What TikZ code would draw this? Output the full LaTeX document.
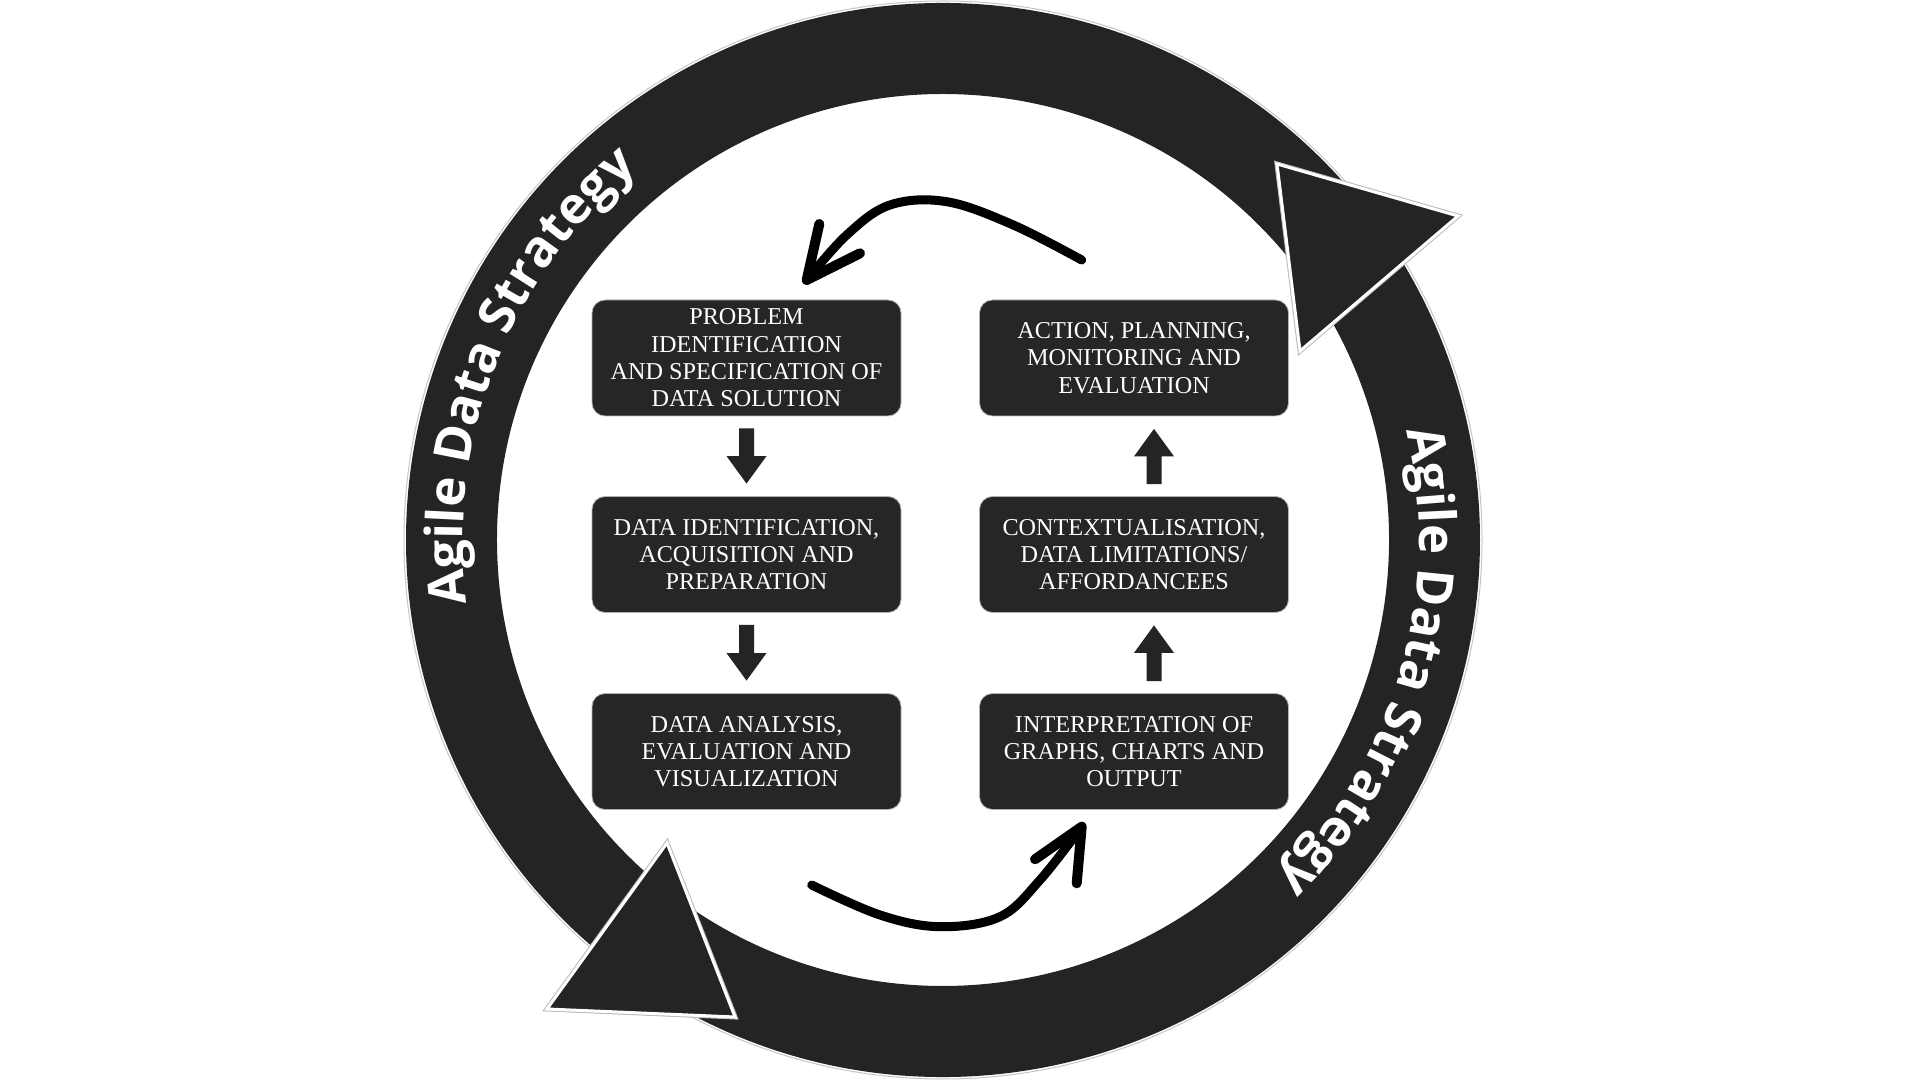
\documentclass[tikz,border=0pt]{standalone}
\usepackage{fontspec}
\setmainfont{Liberation Serif}
\newfontfamily\ringfont{Open Sans}
\usetikzlibrary{calc,decorations.text}
\definecolor{ink}{HTML}{242424}
\definecolor{boxgray}{HTML}{262626}

% filled block arrow from #1 to #2 (tip at #2)
\newcommand\stepflow[2]{%
  \coordinate (sf-s) at (#1);
  \coordinate (sf-t) at (#2);
  \coordinate (sf-h) at ($(sf-t)!27.5pt!(sf-s)$);
  \fill[ink] ($(sf-s)!7.5pt!90:(sf-t)$) -- ($(sf-h)!7.5pt!90:(sf-t)$)
    -- ($(sf-h)!20pt!90:(sf-t)$) -- (sf-t) -- ($(sf-h)!20pt!-90:(sf-t)$)
    -- ($(sf-h)!7.5pt!-90:(sf-t)$) -- ($(sf-s)!7.5pt!-90:(sf-t)$) -- cycle;}

\begin{document}
\begin{tikzpicture}[x=1pt,y=1pt,
  stepbox/.style={fill=boxgray, draw=gray!60, line width=0.8pt, rounded corners=13pt,
    minimum width=309pt, minimum height=116pt, text=white, align=center,
    font=\fontsize{24.2}{27.3}\selectfont, inner sep=0pt},
  ringband/.style={fill=ink},
  ringedge/.style={draw=gray!45, line width=1pt},
  headhalo/.style={draw=gray!55, line width=5pt, line join=miter},
  ringhead/.style={fill=ink, draw=white, line width=3pt, line join=miter},
  handline/.style={line width=9pt, line cap=round, line join=round, draw=black},
  ringtext/.style={decorate, decoration={text along path, text align=center,
    text color=white, text={|\ringfont\bfseries\fontsize{51}{56}\selectfont|#1}}},
]
\useasboundingbox (0,0) rectangle (1920,1080);
\fill[white] (0,0) rectangle (1920,1080);
\coordinate (O) at (943,540);

% the two circular bands
\fill[ringband] ($(O)+(36:537)$) arc[start angle=36, end angle=232, radius=537pt]
  -- ($(O)+(232:446)$) arc[start angle=232, end angle=36, radius=446pt] -- cycle;
\fill[ringband] ($(O)+(235:537)$) arc[start angle=235, end angle=393, radius=537pt]
  -- ($(O)+(393:446)$) arc[start angle=393, end angle=235, radius=446pt] -- cycle;
\draw[ringedge] ($(O)+(0:539)$) arc[start angle=0, end angle=360, radius=539pt];

% arrowheads of the bands
\coordinate (trA) at (1277,916);
\coordinate (trB) at (1458,864);
\coordinate (trC) at (1300,729);
\coordinate (blA) at (735,63);
\coordinate (blB) at (667,237);
\coordinate (blC) at (547,71);
\draw[headhalo] (trA) -- (trB) -- (trC) -- cycle;
\filldraw[ringhead] (trA) -- (trB) -- (trC) -- cycle;
\draw[headhalo] (blA) -- (blB) -- (blC) -- cycle;
\filldraw[ringhead] (blA) -- (blB) -- (blC) -- cycle;

% band labels
\path[ringtext={Agile Data Strategy}] ($(O)+(198.5:480)$) arc[start angle=198.5, end angle=118.5, radius=480pt];
\path[ringtext={Agile Data Strategy}] ($(O)+(24:476)$) arc[start angle=24, end angle=-56, radius=476pt];

% process steps
\node[stepbox] (p1) at (746.5,722) {PROBLEM\\IDENTIFICATION\\AND SPECIFICATION OF\\DATA SOLUTION};
\node[stepbox] (p2) at (746.5,525.5) {DATA IDENTIFICATION,\\ACQUISITION AND\\PREPARATION};
\node[stepbox] (p3) at (746.5,328.5) {DATA ANALYSIS,\\EVALUATION AND\\VISUALIZATION};
\node[stepbox] (p4) at (1134,328.5) {INTERPRETATION OF\\GRAPHS, CHARTS AND\\OUTPUT};
\node[stepbox] (p5) at (1134,525.5) {CONTEXTUALISATION,\\DATA LIMITATIONS/\\AFFORDANCEES};
\node[stepbox] (p6) at (1134,722) {ACTION, PLANNING,\\MONITORING AND\\EVALUATION};

% block arrows between steps
\stepflow{[yshift=-12pt]p1.south}{[yshift=12.5pt]p2.north}
\stepflow{[yshift=-12pt]p2.south}{[yshift=12.5pt]p3.north}
\stepflow{[xshift=20pt,yshift=12pt]p4.north}{[xshift=20pt,yshift=-12.5pt]p5.south}
\stepflow{[xshift=20pt,yshift=12pt]p5.north}{[xshift=20pt,yshift=-12.5pt]p6.south}

% hand-drawn loop arrows
\coordinate (u1) at (1081.7,820);
\coordinate (u2) at (1013.3,855);
\coordinate (u3) at (946.7,878.3);
\coordinate (u4) at (890,875);
\coordinate (u5) at (846.7,845);
\coordinate (u6) at (806.7,800);
\coordinate (uh1) at (819.3,856);
\coordinate (uh2) at (860,826.7);
\draw[handline] plot[smooth, tension=0.6] coordinates {(u1) (u2) (u3) (u4) (u5) (u6)};
\draw[handline, line width=10pt] (uh1) -- (u6) -- (uh2);

\coordinate (d1) at (811.7,195);
\coordinate (d2) at (880,165);
\coordinate (d3) at (940,153.3);
\coordinate (d4) at (1000,163.3);
\coordinate (d5) at (1040,200);
\coordinate (d6) at (1081.7,253.3);
\coordinate (dh1) at (1035,220.7);
\coordinate (dh2) at (1076.7,196.7);
\draw[handline] plot[smooth, tension=0.6] coordinates {(d1) (d2) (d3) (d4) (d5) (d6)};
\draw[handline, line width=10pt] (dh1) -- (d6) -- (dh2);
\end{tikzpicture}
\end{document}
